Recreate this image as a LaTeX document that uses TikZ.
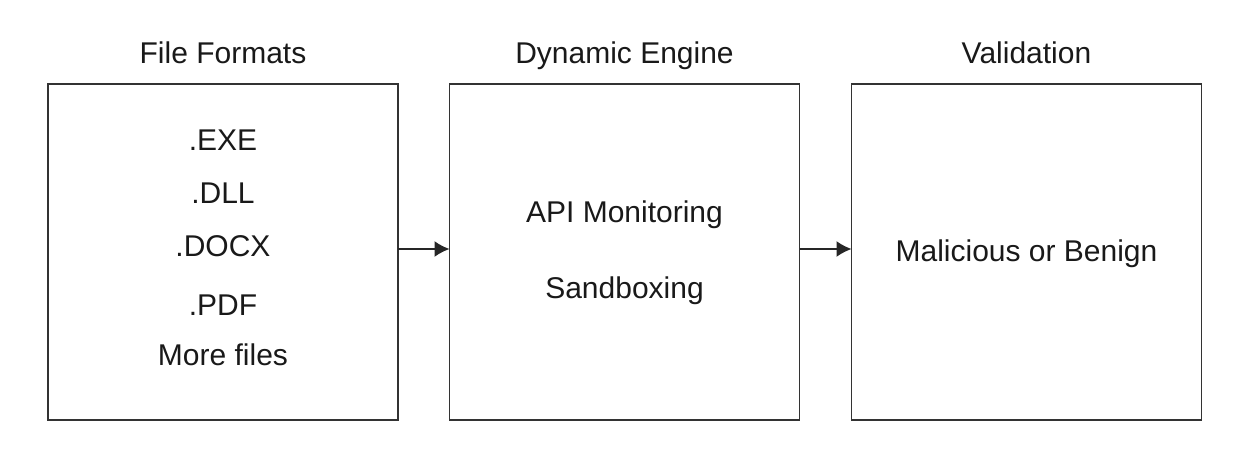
\documentclass[tikz,border=0pt]{standalone}
\usepackage{fontspec}
\setmainfont{Liberation Sans}
\usetikzlibrary{arrows.meta}
\tikzset{
	box/.style={draw=black!80, line width=1.5pt, minimum width=350pt, minimum height=336pt, inner sep=0pt, outer sep=0pt},
	lbl/.style={anchor=base, inner sep=0pt, font=\fontsize{30}{36}\selectfont, text=black!90},
	arr/.style={draw=black!85, line width=1.5pt, -{Latex[length=15pt,width=16pt]}}
}
\begin{document}
\begin{tikzpicture}[x=1pt,y=-1pt]
				\useasboundingbox (0,0) rectangle (1234,457);
				\node[box] (files) at (223,252) {};
				\node[box] (engine) at (624.5,252) {};
				\node[box] (valid) at (1026.5,252) {};
				\node[lbl] (tfiles) at (223,63.3) {File Formats};
				\node[lbl] (tengine) at (624.5,63.3) {Dynamic Engine};
				\node[lbl] (tvalid) at (1026.5,63.3) {Validation};
				\node[lbl] (exe) at (223,150.7) {.EXE};
				\node[lbl] (dll) at (223,204) {.DLL};
				\node[lbl] (docx) at (223,256.7) {.DOCX};
				\node[lbl] (pdf) at (223,315) {.PDF};
				\node[lbl] (more) at (223,365) {More files};
				\node[lbl] (api) at (624.5,222.3) {API Monitoring};
				\node[lbl] (sand) at (624.5,298.3) {Sandboxing};
				\node[lbl] (verdict) at (1026.5,261.7) {Malicious or Benign};
				\draw[arr] ([yshift=3pt]files.east) -- ([yshift=3pt]engine.west);
				\draw[arr] ([yshift=3pt]engine.east) -- ([yshift=3pt]valid.west);
			\end{tikzpicture}
\end{document}
